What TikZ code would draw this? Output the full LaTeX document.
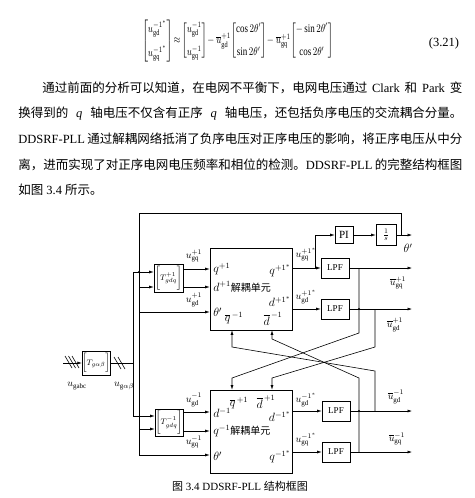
\documentclass[tikz,border=0pt]{standalone}
\usepackage{amsmath}
\usepackage{graphicx}
\usepackage{fontspec}
\setmainfont{Liberation Serif}
\newfontfamily\cjkfont{Noto Sans CJK SC}
\newcommand{\zh}[1]{{\cjkfont #1}}
\usetikzlibrary{arrows.meta}
\XeTeXlinebreaklocale "zh"
\XeTeXlinebreakskip=0pt plus 1pt

\tikzset{
  blk/.style={draw, minimum width=28pt, minimum height=20pt, inner sep=0pt},
  sig/.style={-{Latex[length=4.5pt,width=3pt]}},
  lbl/.style={inner sep=0pt, font=\fontsize{10}{11}\selectfont},
  port/.style={inner sep=0pt, font=\fontsize{11.5}{13}\selectfont},
  txtline/.style={anchor=west, inner sep=0pt, font=\fontsize{12.5}{15}\selectfont},
}

\begin{document}
\begin{tikzpicture}[x=1pt, y=-1pt, line width=0.6pt]
  \path[use as bounding box, fill=white] (0,0) rectangle (474,498);

  % equation and text
  \node[inner sep=0pt, font=\fontsize{10}{12}\selectfont] (eq) at (237.5,41) {\resizebox*{191pt}{42pt}{\setlength{\arraycolsep}{1pt}$\begin{bmatrix}u^{-1^*}_{\mathrm{gd}}\\[8pt] u^{-1^*}_{\mathrm{gq}}\end{bmatrix}\!\approx\!\begin{bmatrix}u^{-1}_{\mathrm{gd}}\\[8pt] u^{-1}_{\mathrm{gq}}\end{bmatrix}\!-\overline{u}^{+1}_{\mathrm{gd}}\!\begin{bmatrix}\cos 2\theta'\\[8pt]\sin 2\theta'\end{bmatrix}\!-\overline{u}^{+1}_{\mathrm{gq}}\!\begin{bmatrix}-\sin 2\theta'\\[8pt]\cos 2\theta'\end{bmatrix}$}};
  \node[font=\fontsize{12.5}{15}\selectfont] (eqnum) at (444,43) {(3.21)};
  \node[txtline] (p1) at (42,88) {\makebox[420pt][s]{\zh{通过前面的分析可以知道，在电网不平衡下，电网电压通过} Clark \zh{和} Park \zh{变}}};
  \node[txtline] (p2) at (18,113.5) {\makebox[444pt][s]{\zh{换得到的} \textit{q} \zh{轴电压不仅含有正序} \textit{q} \zh{轴电压，还包括负序电压的交流耦合分量。}}};
  \node[txtline] (p3) at (18,139) {\makebox[444pt][s]{DDSRF-PLL \zh{通过解耦网络抵消了负序电压对正序电压的影响，将正序电压从中分}}};
  \node[txtline] (p4) at (18,164.5) {\makebox[444pt][s]{\zh{离，进而实现了对正序电网电压频率和相位的检测。}DDSRF-PLL \zh{的完整结构框图}}};
  \node[txtline] (p5) at (18,190) {\zh{如图} 3.4 \zh{所示。}};

  % blocks
  \node[blk, minimum width=26pt, minimum height=24pt] (Tab) at (96,363) {\footnotesize$\bigg[T_{g\alpha\beta}\bigg]$};
  \node[blk, minimum width=29pt, minimum height=28pt] (Tp) at (168.5,278) {\footnotesize$\Bigg[T^{+1}_{gdq}\Bigg]$};
  \node[blk, minimum width=28pt, minimum height=27pt] (Tn) at (169,422.5) {\footnotesize$\Bigg[T^{-1}_{gdq}\Bigg]$};
  \node[blk, minimum width=82pt, minimum height=82pt] (DUp) at (251,289) {};
  \node[blk, minimum width=82pt, minimum height=83pt] (DUn) at (251,431.5) {};
  \node[blk, minimum width=18pt, minimum height=17pt, font=\fontsize{11}{12}\selectfont] (PI) at (344,235) {PI};
  \node[blk, minimum width=20pt, minimum height=21pt] (Int) at (386,235) {$\frac{1}{s}$};
  \node[blk, font=\fontsize{9}{10}\selectfont] (LPFa) at (335,268) {LPF};
  \node[blk, font=\fontsize{9}{10}\selectfont] (LPFb) at (335,309) {LPF};
  \node[blk, font=\fontsize{9}{10}\selectfont] (LPFc) at (336,411) {LPF};
  \node[blk, font=\fontsize{9}{10}\selectfont] (LPFd) at (336,452) {LPF};

  % ports inside the decoupling units
  \node[port, anchor=west] (qp) at (213,269) {$q^{+1}$};
  \node[port, anchor=west] (dp) at (213,287) {$d^{+1}$\zh{\fontsize{10}{11}\selectfont 解耦单元}};
  \node[port, anchor=west] (thp) at (213,312) {$\theta'$};
  \node[port] (qbm) at (234,318) {$\overline{q}^{\,-1}$};
  \node[port] (dbm) at (273,319) {$\overline{d}^{\,-1}$};
  \node[port, anchor=east] (qps) at (291,271) {$q^{+1^*}$};
  \node[port, anchor=east] (dps) at (291,302) {$d^{+1^*}$};
  \node[port, anchor=west] (dn) at (213,413) {$d^{-1}$};
  \node[port] (qbp) at (239,403) {$\overline{q}^{\,+1}$};
  \node[port] (dbp) at (266,402) {$\overline{d}^{\,+1}$};
  \node[port, anchor=east] (dns) at (291,417) {$d^{-1^*}$};
  \node[port, anchor=west] (qn) at (213,431) {$q^{-1}$\zh{\fontsize{10}{11}\selectfont 解耦单元}};
  \node[port, anchor=west] (thn) at (213,456) {$\theta'$};
  \node[port, anchor=east] (qns) at (291,457) {$q^{-1^*}$};

  % signal rows
  \coordinate (uin) at (63,363);
  \coordinate (bus) at (133,363);
  \coordinate (busP) at (133,272);
  \coordinate (busN) at (133,416);
  \coordinate (fbR) at (401,235);
  \coordinate (thA) at (139,213);
  \coordinate (thB) at (139,455);
  \coordinate (thP) at (139,287);
  \coordinate (thPu) at (139,312);
  \coordinate (thN) at (139,429);
  \coordinate (rQp) at (0,269);
  \coordinate (rDp) at (0,287);
  \coordinate (rDn) at (0,412);
  \coordinate (rQn) at (0,431);
  \coordinate (br) at (315,268);
  \coordinate (thOut) at (412,235);
  \coordinate (oa) at (412,268);
  \coordinate (ob) at (412,309);
  \coordinate (oc) at (412,411);
  \coordinate (od) at (412,452);

  % input and transforms
  \draw[sig] (uin) -- (Tab.west);
  \foreach \s in {65,68.5,72} \draw (\s,356) -- ++(7,12);
  \foreach \s in {114,118} \draw (\s,357) -- ++(7,12);
  \draw (Tab.east) -- (bus);
  \draw (busP) -- (busN);
  \draw[sig] (busP) -- (busP -| Tp.west);
  \draw[sig] (busN) -- (busN -| Tn.west);
  \draw (fbR) |- (thA) -- (thB);
  \fill (thA |- busP) circle (1.1pt);
  \draw[sig] (thP) -- (thP -| Tp.west);
  \draw[sig] (thPu) -- (thPu -| DUp.west);
  \draw[sig] (thN) -- (thN -| Tn.west);
  \draw[sig] (thB) -- (thB -| DUn.west);
  \draw[sig] (Tp.east |- rQp) -- (DUp.west |- rQp);
  \draw[sig] (Tp.east |- rDp) -- (DUp.west |- rDp);
  \draw[sig] (Tn.east |- rDn) -- (DUn.west |- rDn);
  \draw[sig] (Tn.east |- rQn) -- (DUn.west |- rQn);

  % positive sequence outputs and PLL
  \draw[sig] (DUp.east |- LPFa) -- (LPFa.west);
  \draw[sig] (DUp.east |- LPFb) -- (LPFb.west);
  \draw[sig] (br) |- (PI.west);
  \draw[sig] (PI) -- (Int);
  \draw[sig] (Int.east) -- (thOut);
  \draw[sig] (LPFa.east) -- (oa);
  \draw[sig] (LPFb.east) -- (ob);

  % negative sequence outputs
  \draw[sig] (DUn.east |- LPFc) -- (LPFc.west);
  \draw[sig] (DUn.east |- LPFd) -- (LPFd.west);
  \draw[sig] (LPFc.east) -- (oc);
  \draw[sig] (LPFd.east) -- (od);

  % cross coupling
  \draw[sig] (359,268) -- (359,333) -- (232,378) -- (232,378 |- DUn.north);
  \draw[sig] (375,309) -- (375,347) -- (272,378) -- (272,378 |- DUn.north);
  \draw[sig] (375,411) -- (375,371) -- (232,347) -- (232,347 |- DUp.south);
  \draw[sig] (359,452) -- (359,378) -- (272,339) -- (272,339 |- DUp.south);
  \fill (359,309) circle (1.1pt);
  \fill (359,411) circle (1.1pt);

  % signal labels
  \node[lbl] (lgabc) at (77,386) {$u_{\mathrm{gabc}}$};
  \node[lbl] (lgab) at (124,386) {$u_{\mathrm{g}\alpha\beta}$};
  \node[lbl] (lqp) at (194,256) {$u^{+1}_{\mathrm{gq}}$};
  \node[lbl] (ldp) at (194,300) {$u^{+1}_{\mathrm{gd}}$};
  \node[lbl] (ldn) at (194,400) {$u^{-1}_{\mathrm{gd}}$};
  \node[lbl] (lqn) at (194,442) {$u^{-1}_{\mathrm{gq}}$};
  \node[lbl] (lqps) at (306,255) {$u^{+1^*}_{\mathrm{gq}}$};
  \node[lbl] (ldps) at (306,297) {$u^{+1^*}_{\mathrm{gd}}$};
  \node[lbl] (ldns) at (306,400) {$u^{-1^*}_{\mathrm{gd}}$};
  \node[lbl] (lqns) at (306,440) {$u^{-1^*}_{\mathrm{gq}}$};
  \node[lbl] (lqbp) at (398,283) {$\overline{u}^{+1}_{\mathrm{gq}}$};
  \node[lbl] (ldbp) at (395,325) {$\overline{u}^{+1}_{\mathrm{gd}}$};
  \node[lbl] (ldbn) at (396,397) {$\overline{u}^{-1}_{\mathrm{gd}}$};
  \node[lbl] (lqbn) at (397,439) {$\overline{u}^{-1}_{\mathrm{gq}}$};
  \node[port] (lth) at (408,248) {$\theta'$};

  % caption
  \node[font=\fontsize{11}{13}\selectfont] (cap) at (240,486) {\zh{图} 3.4 DDSRF-PLL \zh{结构框图}};
\end{tikzpicture}
\end{document}
